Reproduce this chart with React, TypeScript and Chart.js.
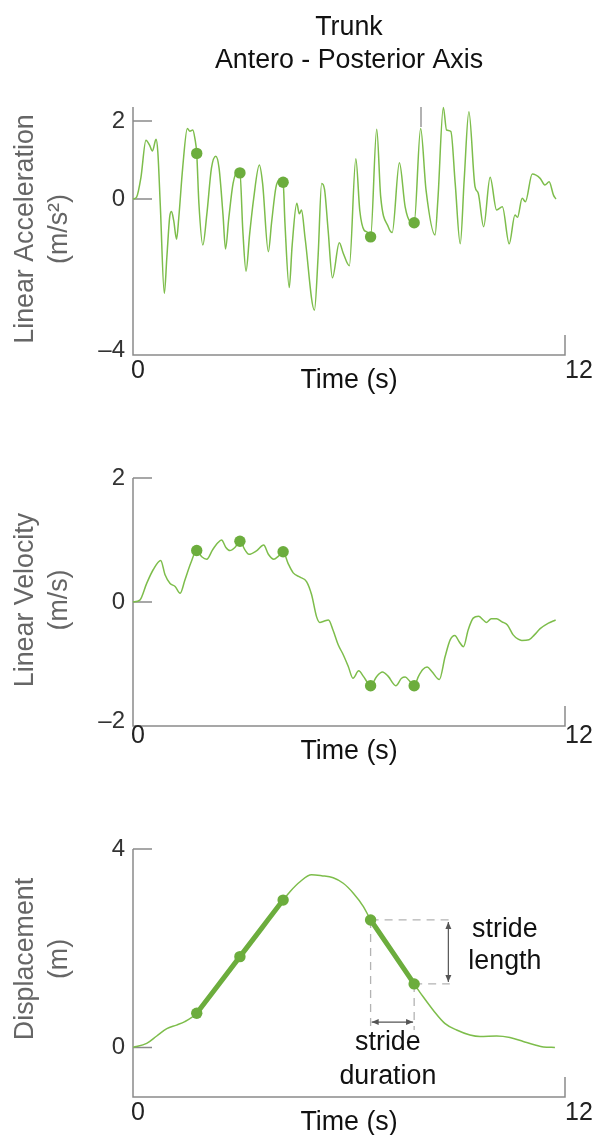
import React, { useEffect, useRef } from 'react';
import { Chart, registerables } from 'chart.js';

Chart.register(...registerables);

const FONT = '"Liberation Sans", Arial, Helvetica, sans-serif';
const TEXT_SIZE = 26.8;
const LINE_GREEN = '#7dbd4b';
const DOT_GREEN = '#6cad3d';
const AXIS_GREY = '#8a8a8a';

// ---------- data ----------
const chartTitle = ['Trunk', 'Antero - Posterior Axis'];
const timeLabel = 'Time (s)';
const xTickLabels = ['0', '12'];

const accTime = [0.00, 0.10, 0.22, 0.36, 0.46, 0.54, 0.64, 0.69, 0.76, 0.87, 0.94, 1.02, 1.07, 1.13, 1.21, 1.27, 1.38, 1.51, 1.58, 1.66, 1.72, 1.77, 1.83, 1.94, 2.05, 2.18, 2.30, 2.39, 2.50, 2.57, 2.66, 2.78, 2.90, 2.97, 3.05, 3.14, 3.24, 3.35, 3.51, 3.60, 3.76, 3.85, 3.97, 4.07, 4.17, 4.22, 4.34, 4.42, 4.55, 4.62, 4.68, 4.78, 5.04, 5.14, 5.24, 5.32, 5.42, 5.54, 5.73, 5.84, 6.01, 6.19, 6.30, 6.42, 6.50, 6.60, 6.77, 6.88, 7.09, 7.20, 7.40, 7.56, 7.70, 7.81, 7.99, 8.14, 8.39, 8.47, 8.62, 8.71, 8.83, 8.95, 9.09, 9.20, 9.33, 9.50, 9.59, 9.74, 9.92, 10.10, 10.26, 10.45, 10.61, 10.68, 10.81, 10.90, 11.09, 11.31, 11.44, 11.56, 11.68, 11.75];
const accValues = [0.00, 0.05, 0.55, 1.51, 1.38, 1.23, 1.53, 1.20, -0.20, -2.42, -1.50, -0.45, -0.32, -0.55, -1.03, -0.50, 0.80, 1.81, 1.74, 1.77, 1.55, 1.17, -0.10, -1.18, -0.40, 0.80, 1.10, 0.80, -0.40, -1.28, -0.50, 0.40, 0.68, 0.67, -0.80, -1.85, -0.90, 0.00, 0.87, 0.40, -1.35, -0.60, 0.30, 0.49, 0.43, -0.60, -2.27, -1.20, -0.11, -0.38, -0.28, -1.00, -2.85, -1.50, 0.40, 0.25, -0.80, -2.02, -1.12, -1.39, -1.71, 1.03, -0.30, -0.80, -0.84, -0.97, 1.79, 0.06, -0.71, -0.86, 0.93, -0.20, -0.58, -0.61, 1.81, 0.23, -0.92, 0.00, 2.35, 1.77, 1.73, 0.40, -1.15, 0.50, 2.24, 0.32, 0.15, -0.71, 0.56, -0.28, -0.20, -1.15, -0.41, -0.47, 0.02, -0.07, 0.64, 0.53, 0.36, 0.44, 0.10, 0.00];

const velTime = [0, 0.19, 0.38, 0.56, 0.77, 0.89, 1.03, 1.17, 1.31, 1.44, 1.60, 1.77, 1.91, 2.05, 2.21, 2.35, 2.46, 2.58, 2.69, 2.83, 2.97, 3.11, 3.22, 3.44, 3.63, 3.76, 3.91, 4.04, 4.17, 4.31, 4.45, 4.64, 4.82, 4.96, 5.10, 5.19, 5.30, 5.43, 5.56, 5.70, 5.84, 5.98, 6.11, 6.27, 6.40, 6.54, 6.60, 6.77, 6.93, 7.09, 7.30, 7.46, 7.56, 7.69, 7.81, 7.93, 8.05, 8.17, 8.30, 8.51, 8.67, 8.81, 8.94, 9.06, 9.18, 9.31, 9.45, 9.60, 9.73, 9.82, 9.95, 10.10, 10.25, 10.40, 10.56, 10.70, 10.80, 11.00, 11.15, 11.31, 11.54, 11.74];
const velValues = [0, 0.03, 0.30, 0.52, 0.67, 0.44, 0.30, 0.25, 0.14, 0.35, 0.62, 0.83, 0.73, 0.69, 0.84, 0.95, 1.00, 0.88, 0.83, 0.88, 0.98, 0.84, 0.77, 0.83, 0.92, 0.77, 0.69, 0.74, 0.81, 0.62, 0.47, 0.40, 0.33, 0.12, -0.24, -0.33, -0.31, -0.29, -0.46, -0.69, -0.85, -1.04, -1.23, -1.11, -1.20, -1.32, -1.35, -1.20, -1.13, -1.20, -1.35, -1.23, -1.21, -1.28, -1.35, -1.20, -1.09, -1.05, -1.12, -1.25, -0.88, -0.61, -0.54, -0.64, -0.72, -0.45, -0.26, -0.23, -0.29, -0.33, -0.27, -0.27, -0.32, -0.37, -0.53, -0.60, -0.62, -0.61, -0.53, -0.43, -0.34, -0.29];

const dispTime = [0, 0.38, 0.66, 0.94, 1.21, 1.44, 1.77, 2.37, 2.97, 3.57, 4.17, 4.36, 4.64, 4.96, 5.24, 5.56, 5.84, 6.12, 6.40, 6.60, 7.23, 7.81, 8.06, 8.34, 8.67, 8.99, 9.36, 9.64, 10.10, 10.47, 10.84, 11.17, 11.40, 11.72];
const dispValues = [0, 0.08, 0.23, 0.38, 0.45, 0.52, 0.69, 1.26, 1.83, 2.40, 2.97, 3.14, 3.34, 3.48, 3.46, 3.42, 3.31, 3.11, 2.84, 2.57, 1.90, 1.28, 1.02, 0.75, 0.48, 0.35, 0.25, 0.22, 0.23, 0.20, 0.12, 0.05, 0.01, 0.00];

// stride events (heel strikes)
const strideTimes = [1.77, 2.97, 4.17, 6.60, 7.81];
const accStride = [1.17, 0.67, 0.43, -0.97, -0.61];
const velStride = [0.83, 0.98, 0.81, -1.35, -1.35];
const dispStride = [0.69, 1.83, 2.97, 2.57, 1.28];

const accTicks = [2, 0, -4];
const accTickLabels = ['2', '0', '\u20134'];
const velTicks = [2, 0, -2];
const velTickLabels = ['2', '0', '\u20132'];
const dispTicks = [4, 0];
const dispTickLabels = ['4', '0'];

const accTitle = ['Linear Acceleration', '(m/s\u00b2)'];
const velTitle = ['Linear Velocity', '(m/s)'];
const dispTitle = ['Displacement', '(m)'];
const strideLengthLabel = ['stride', 'length'];
const strideDurationLabel = ['stride', 'duration'];

// ---------- helpers ----------
const pts = (xs: number[], ys: number[]) => xs.map((x, i) => ({ x, y: ys[i] }));

function lineDataset(xs: number[], ys: number[]) {
  return {
    data: pts(xs, ys),
    borderColor: LINE_GREEN,
    borderWidth: 1.5,
    pointRadius: 0,
    cubicInterpolationMode: 'monotone',
    fill: false,
    clip: false,
    order: 2,
  };
}

function dotDataset(ys: number[]) {
  return {
    data: pts(strideTimes, ys),
    showLine: false,
    pointRadius: 5.7,
    pointBackgroundColor: DOT_GREEN,
    pointBorderWidth: 0,
    borderColor: DOT_GREEN,
    clip: false,
    order: 0,
  };
}

function strideSegments() {
  const a = strideTimes[0], b = strideTimes[2], c = strideTimes[3], d = strideTimes[4];
  const out: { x: number; y: number | null }[] = [];
  dispTime.forEach((t, i) => {
    if (t >= a - 1e-6 && t <= b + 1e-6) out.push({ x: t, y: dispValues[i] });
  });
  out.push({ x: (b + c) / 2, y: null });
  dispTime.forEach((t, i) => {
    if (t >= c - 1e-6 && t <= d + 1e-6) out.push({ x: t, y: dispValues[i] });
  });
  return {
    data: out,
    borderColor: DOT_GREEN,
    borderWidth: 5,
    pointRadius: 0,
    spanGaps: false,
    cubicInterpolationMode: 'monotone',
    borderCapStyle: 'round',
    fill: false,
    order: 1,
  };
}

function doubleArrow(ctx: CanvasRenderingContext2D, x1: number, y1: number, x2: number, y2: number) {
  const ang = Math.atan2(y2 - y1, x2 - x1);
  const len = 7, hw = 3;
  ctx.beginPath();
  ctx.moveTo(x1, y1);
  ctx.lineTo(x2, y2);
  ctx.stroke();
  const head = (x: number, y: number, a: number) => {
    ctx.beginPath();
    ctx.moveTo(x, y);
    ctx.lineTo(x - len * Math.cos(a) + hw * Math.sin(a), y - len * Math.sin(a) - hw * Math.cos(a));
    ctx.lineTo(x - len * Math.cos(a) - hw * Math.sin(a), y - len * Math.sin(a) + hw * Math.cos(a));
    ctx.closePath();
    ctx.fill();
  };
  head(x2, y2, ang);
  head(x1, y1, ang + Math.PI);
}

type Spec = {
  top: number;
  height: number;
  padTop: number;
  padBottom: number;
  yMin: number;
  yMax: number;
  ticks: number[];
  tickLabels: string[];
  yTitle: string[];
  yTitleCenter: number;
  xLabelOffset: number;
  datasets: any[];
  under?: (chart: any) => void;
  over?: (chart: any) => void;
};

function decorPlugin(spec: Spec) {
  return {
    id: 'decor',
    beforeDatasetsDraw(chart: any) {
      const { ctx, chartArea: a, scales } = chart;
      const y = scales.y;
      ctx.save();
      ctx.strokeStyle = AXIS_GREY;
      ctx.lineWidth = 1.5;
      ctx.beginPath();
      ctx.moveTo(a.left, a.top);
      ctx.lineTo(a.left, a.bottom);
      ctx.lineTo(a.right, a.bottom);
      ctx.lineTo(a.right, a.bottom - 20);
      spec.ticks.forEach((v) => {
        if (v === spec.yMin) return;
        const py = y.getPixelForValue(v);
        ctx.moveTo(a.left, py);
        ctx.lineTo(a.left + 19, py);
      });
      ctx.stroke();
      ctx.restore();
      if (spec.under) {
        ctx.save();
        spec.under(chart);
        ctx.restore();
      }
    },
    afterDatasetsDraw(chart: any) {
      const { ctx, chartArea: a, scales } = chart;
      const y = scales.y;
      ctx.save();
      // y tick labels
      ctx.font = `24px ${FONT}`;
      ctx.fillStyle = '#333';
      ctx.textAlign = 'right';
      spec.ticks.forEach((v, i) => {
        const py = y.getPixelForValue(v);
        if (v === spec.yMin) {
          ctx.textBaseline = 'alphabetic';
          ctx.fillText(spec.tickLabels[i], a.left - 8, py + 2);
        } else {
          ctx.textBaseline = 'middle';
          ctx.fillText(spec.tickLabels[i], a.left - 8, py);
        }
      });
      // x tick labels
      ctx.font = `25px ${FONT}`;
      ctx.fillStyle = '#222';
      ctx.textBaseline = 'middle';
      ctx.textAlign = 'center';
      ctx.fillText(xTickLabels[0], a.left + 5, a.bottom + spec.xLabelOffset);
      ctx.textAlign = 'left';
      ctx.fillText(xTickLabels[1], a.right, a.bottom + spec.xLabelOffset);
      // x title
      ctx.font = `${TEXT_SIZE}px ${FONT}`;
      ctx.fillStyle = '#111';
      ctx.textAlign = 'center';
      ctx.fillText(timeLabel, (a.left + a.right) / 2, a.bottom + 26);
      // y title (rotated)
      ctx.save();
      ctx.translate(0, spec.yTitleCenter);
      ctx.rotate(-Math.PI / 2);
      ctx.fillStyle = '#666';
      ctx.font = `${TEXT_SIZE}px ${FONT}`;
      ctx.textAlign = 'center';
      ctx.textBaseline = 'middle';
      ctx.fillText(spec.yTitle[0], 0, 26);
      ctx.fillText(spec.yTitle[1], 0, 60);
      ctx.restore();
      if (spec.over) spec.over(chart);
      ctx.restore();
    },
  };
}

function Panel({ spec }: { spec: Spec }) {
  const ref = useRef<HTMLCanvasElement>(null);
  useEffect(() => {
    const chart = new Chart(ref.current as HTMLCanvasElement, {
      type: 'line',
      data: { datasets: spec.datasets },
      options: {
        responsive: false,
        animation: false,
        events: [],
        layout: { padding: { left: 133, right: 28, top: spec.padTop, bottom: spec.padBottom } },
        scales: {
          x: { type: 'linear', min: 0, max: 12, display: false },
          y: { type: 'linear', min: spec.yMin, max: spec.yMax, display: false },
        },
        plugins: {
          legend: { display: false },
          tooltip: { enabled: false },
          title: { display: false },
        },
      } as any,
      plugins: [decorPlugin(spec)],
    });
    return () => chart.destroy();
  }, []);
  return (
    <canvas
      ref={ref}
      width={593}
      height={spec.height}
      style={{ position: 'absolute', left: 0, top: spec.top, width: 593, height: spec.height, display: 'block' }}
    />
  );
}

const panelAcc: Spec = {
  top: 0,
  height: 400,
  padTop: 107,
  padBottom: 45,
  yMin: -4,
  yMax: 2.36,
  ticks: accTicks,
  tickLabels: accTickLabels,
  yTitle: accTitle,
  yTitleCenter: 229,
  xLabelOffset: 16,
  datasets: [dotDataset(accStride), lineDataset(accTime, accValues)],
  under: (chart: any) => {
    const { ctx, scales } = chart;
    const px = scales.x.getPixelForValue(8.0);
    ctx.strokeStyle = '#999';
    ctx.lineWidth = 1.5;
    ctx.beginPath();
    ctx.moveTo(px, scales.y.getPixelForValue(2.36));
    ctx.lineTo(px, scales.y.getPixelForValue(1.85));
    ctx.stroke();
  },
  over: (chart: any) => {
    const { ctx, chartArea: a } = chart;
    ctx.font = `${TEXT_SIZE}px ${FONT}`;
    ctx.fillStyle = '#111';
    ctx.textAlign = 'center';
    ctx.textBaseline = 'middle';
    const cx = (a.left + a.right) / 2;
    ctx.fillText(chartTitle[0], cx, 28);
    ctx.fillText(chartTitle[1], cx, 61);
  },
};

const panelVel: Spec = {
  top: 400,
  height: 375,
  padTop: 78,
  padBottom: 49,
  yMin: -2,
  yMax: 2,
  ticks: velTicks,
  tickLabels: velTickLabels,
  yTitle: velTitle,
  yTitleCenter: 200,
  xLabelOffset: 10,
  datasets: [dotDataset(velStride), lineDataset(velTime, velValues)],
};

const panelDisp: Spec = {
  top: 775,
  height: 360,
  padTop: 74,
  padBottom: 38,
  yMin: -1,
  yMax: 4,
  ticks: dispTicks,
  tickLabels: dispTickLabels,
  yTitle: dispTitle,
  yTitleCenter: 184,
  xLabelOffset: 16,
  datasets: [dotDataset(dispStride), strideSegments(), lineDataset(dispTime, dispValues)],
  under: (chart: any) => {
    const { ctx, scales } = chart;
    const px = (t: number) => scales.x.getPixelForValue(t);
    const py = (v: number) => scales.y.getPixelForValue(v);
    const t4 = strideTimes[3], t5 = strideTimes[4];
    const v4 = dispStride[3], v5 = dispStride[4];
    ctx.strokeStyle = '#b3b3b3';
    ctx.lineWidth = 1.3;
    ctx.setLineDash([8, 6]);
    ctx.beginPath();
    ctx.moveTo(px(t4), py(v4)); ctx.lineTo(px(8.8), py(v4));
    ctx.moveTo(px(t5), py(v5)); ctx.lineTo(px(8.8), py(v5));
    ctx.moveTo(px(t4), py(v4)); ctx.lineTo(px(t4), py(0.35));
    ctx.moveTo(px(t5), py(v5)); ctx.lineTo(px(t5), py(0.35));
    ctx.stroke();
    ctx.setLineDash([]);
    ctx.strokeStyle = '#555';
    ctx.fillStyle = '#555';
    ctx.lineWidth = 1.2;
    doubleArrow(ctx, px(8.76), py(v4 - 0.04), px(8.76), py(v5 + 0.04));
    doubleArrow(ctx, px(t4 + 0.03), py(0.51), px(t5 - 0.03), py(0.51));
  },
  over: (chart: any) => {
    const { ctx, scales } = chart;
    const px = (t: number) => scales.x.getPixelForValue(t);
    const py = (v: number) => scales.y.getPixelForValue(v);
    ctx.font = `${TEXT_SIZE}px ${FONT}`;
    ctx.fillStyle = '#111';
    ctx.textAlign = 'center';
    ctx.textBaseline = 'middle';
    ctx.fillText(strideLengthLabel[0], px(10.33), py(2.37));
    ctx.fillText(strideLengthLabel[1], px(10.33), py(1.72));
    ctx.fillText(strideDurationLabel[0], px(7.08), py(0.09));
    ctx.fillText(strideDurationLabel[1], px(7.08), py(-0.58));
  },
};

export default function App() {
  return (
    <div style={{ position: 'absolute', left: 0, top: 0, width: 593, height: 1135, background: '#fff', overflow: 'hidden' }}>
      <Panel spec={panelAcc} />
      <Panel spec={panelVel} />
      <Panel spec={panelDisp} />
    </div>
  );
}
